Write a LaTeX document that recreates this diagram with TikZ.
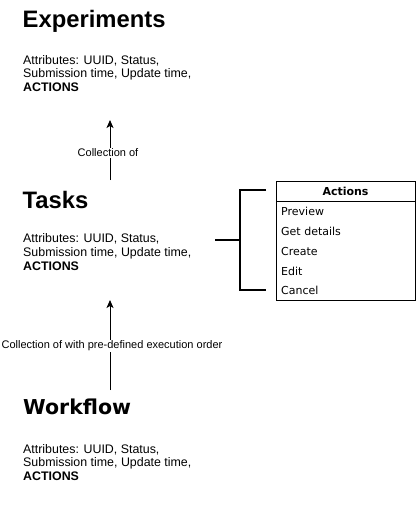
\documentclass[tikz,border=0pt]{standalone}
\usepackage{fontspec}
\setmainfont{Liberation Sans}
\newfontfamily\dejavu{DejaVu Sans}
\usetikzlibrary{arrows.meta}
\tikzset{
  title/.style={anchor=base west, inner sep=0pt, font=\fontsize{23.8}{26}\selectfont\bfseries},
  attr/.style={anchor=base west, inner sep=0pt, font=\fontsize{12.4}{14}\selectfont},
  lbl/.style={fill=white, inner sep=1pt, font=\fontsize{11}{12}\selectfont},
  arr/.style={line width=1pt, -{Stealth[length=8pt,width=7pt,inset=2pt]}},
  bracket/.style={line width=1.6pt},
  actrow/.style={anchor=west, inner sep=0pt, font=\dejavu\fontsize{11}{12}\selectfont},
}
\begin{document}
\begin{tikzpicture}[x=1pt,y=-1pt]
\useasboundingbox (0,0) rectangle (416,513);
% Experiments
\node[title] (exp) at (22.5,28) {Experiments};
\node[attr] (exp1) at (23,64.5) {Attributes: UUID, Status,};
\node[attr] (exp2) at (23,78) {Submission time, Update time,};
\node[attr] (exp3) at (23,91.5) {\textbf{ACTIONS}};
% Tasks
\node[title] (tsk) at (22.5,208) {Tasks};
\node[attr] (tsk1) at (23,242) {Attributes: UUID, Status,};
\node[attr] (tsk2) at (23,256) {Submission time, Update time,};
\node[attr] (tsk3) at (23,270) {\textbf{ACTIONS}};
% Workflow
\node[title, font=\dejavu\fontsize{20.5}{24}\selectfont\bfseries] (wf) at (23,414.5) {Workflow};
\node[attr] (wf1) at (23,453) {Attributes: UUID, Status,};
\node[attr] (wf2) at (23,466.5) {Submission time, Update time,};
\node[attr] (wf3) at (23,480) {\textbf{ACTIONS}};
% arrows
\coordinate (a1s) at (110,180);
\coordinate (a1e) at (110,120);
\draw[arr] (a1s) -- (a1e);
\node[lbl] (l1) at (108,153) {Collection of};
\coordinate (a2s) at (110,390);
\coordinate (a2e) at (110,300);
\draw[arr] (a2s) -- (a2e);
\node[lbl] (l2) at (112,346) {Collection of with pre-defined execution order};
% bracket
\coordinate (bl) at (215,240);
\coordinate (bm) at (240,240);
\coordinate (bt) at (266,190);
\coordinate (bb) at (266,290);
\draw[bracket] (bl) -- (bm);
\draw[bracket] (bt) -| (bm) |- (bb);
% actions box
\draw[line width=0.9pt] (276,181) rectangle (415,300);
\draw[line width=0.9pt] (276,201) -- (415,201);
\node[anchor=center, inner sep=0pt, font=\dejavu\fontsize{11}{12}\selectfont\bfseries] (acth) at (345.5,191) {Actions};
\node[actrow] (r1) at (281,211) {Preview};
\node[actrow] (r2) at (281,231) {Get details};
\node[actrow] (r3) at (281,251) {Create};
\node[actrow] (r4) at (281,271) {Edit};
\node[actrow] (r5) at (281,290) {Cancel};
\end{tikzpicture}
\end{document}
